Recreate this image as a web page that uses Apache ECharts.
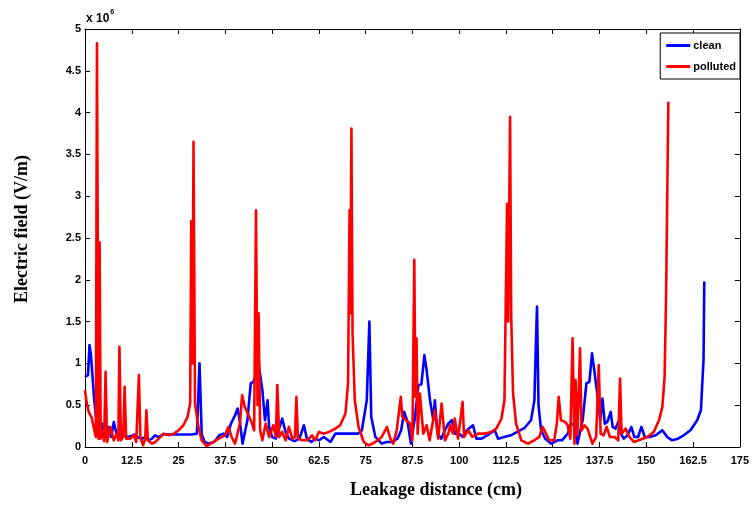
<!DOCTYPE html>
<html>
<head>
<meta charset="utf-8">
<script src="https://cdn.jsdelivr.net/npm/echarts@6/dist/echarts.min.js"></script>
<style>html,body{margin:0;padding:0;background:#fff;}#c{width:752px;height:506px;}</style>
</head>
<body>
<div id="c"></div>
<script>
// values in units of 1e6 V/m, x in cm
const xTicks = [0, 12.5, 25, 37.5, 50, 62.5, 75, 87.5, 100, 112.5, 125, 137.5, 150, 162.5, 175];
const yTicks = [0, 0.5, 1, 1.5, 2, 2.5, 3, 3.5, 4, 4.5, 5];
const seriesNames = ['clean', 'polluted'];
const xName = 'Leakage distance (cm)';
const yName = 'Electric field (V/m)';

const clean = [[0,0.84],[0.8,0.86],[1.2,1.22],[1.6,1.1],[2.4,0.6],[3.1,0.28],[3.8,0.18],[4.6,0.28],[5.3,0.12],[6.2,0.24],[7.0,0.12],[7.7,0.3],[8.4,0.16],[9.3,0.11],[10.3,0.14],[11.3,0.12],[12.3,0.13],[13.3,0.15],[14.3,0.11],[15.3,0.1],[16.2,0.12],[17.0,0.08],[17.9,0.1],[18.7,0.14],[19.6,0.12],[21,0.15],[23,0.15],[25,0.15],[27,0.15],[28.5,0.15],[29.9,0.16],[30.6,1.0],[31.2,0.15],[32.0,0.06],[33.0,0.04],[34.5,0.06],[35.9,0.14],[37,0.16],[38,0.12],[39,0.28],[39.9,0.36],[40.8,0.46],[41.4,0.3],[42.1,0.04],[43.4,0.32],[44.3,0.76],[45.0,0.78],[46.5,0.96],[47.4,0.68],[48.1,0.32],[48.8,0.56],[49.2,0.24],[50,0.12],[51,0.1],[52.7,0.34],[53.6,0.18],[54.5,0.1],[56,0.07],[57.3,0.1],[58.5,0.26],[59.3,0.1],[60.5,0.06],[61.5,0.1],[62.5,0.08],[63.8,0.12],[65.6,0.06],[66.9,0.16],[68.6,0.16],[70,0.16],[71.5,0.16],[73,0.16],[74,0.2],[75.3,0.56],[76.0,1.5],[76.5,0.36],[77.6,0.12],[79.3,0.04],[80.5,0.06],[82,0.06],[83.5,0.1],[84.5,0.2],[85.3,0.42],[86.2,0.3],[87.1,0.04],[88.2,0.36],[89.1,0.74],[89.9,0.75],[90.7,1.1],[91.3,0.92],[92.2,0.56],[93.1,0.32],[93.5,0.56],[94.2,0.16],[95.2,0.1],[96.2,0.2],[97.1,0.28],[98.0,0.32],[98.9,0.16],[100,0.16],[101,0.12],[102,0.2],[103.7,0.26],[104.6,0.1],[106,0.1],[107.5,0.14],[109.5,0.2],[110.4,0.1],[112,0.12],[113.8,0.14],[115.5,0.18],[117.5,0.23],[119.2,0.32],[120.1,0.56],[120.5,1.24],[120.8,1.68],[121.2,0.5],[121.9,0.2],[123,0.1],[124.6,0.04],[126.3,0.08],[127.5,0.08],[129,0.16],[129.9,0.28],[130.8,0.26],[131.6,0.04],[133,0.32],[134.0,0.76],[134.8,0.78],[135.5,1.12],[136.1,0.92],[137.0,0.6],[137.7,0.32],[138.3,0.58],[138.9,0.28],[139.6,0.3],[140.5,0.42],[141,0.24],[141.8,0.22],[142.5,0.3],[143.2,0.16],[144,0.1],[145,0.14],[146,0.24],[146.8,0.12],[147.8,0.12],[148.7,0.24],[149.6,0.12],[151,0.12],[152.5,0.14],[154.3,0.2],[155.6,0.12],[156.9,0.08],[158.5,0.1],[160,0.14],[161.8,0.2],[163.6,0.32],[164.6,0.44],[165.3,1.04],[165.5,1.98]];

const polluted = [[0,0.68],[0.4,0.54],[1.0,0.42],[1.8,0.35],[2.5,0.2],[2.9,0.12],[3.2,4.83],[3.6,0.1],[3.9,2.45],[4.2,0.1],[4.6,0.2],[5.1,0.07],[5.5,0.9],[5.9,0.06],[6.8,0.24],[7.7,0.08],[8.5,0.16],[8.9,0.08],[9.2,1.2],[9.6,0.08],[10.2,0.12],[10.6,0.72],[11,0.1],[12.1,0.1],[13,0.14],[13.7,0.06],[14.4,0.86],[14.8,0.12],[15.5,0.02],[16.1,0.1],[16.4,0.44],[16.8,0.08],[17.9,0.04],[18.8,0.06],[19.7,0.1],[21,0.16],[22.5,0.14],[23.8,0.16],[25,0.2],[26.3,0.26],[27.4,0.36],[28.1,0.52],[28.4,2.7],[28.7,1.0],[29.0,3.65],[29.4,0.52],[30.3,0.24],[31.2,0.08],[32.5,0.01],[34.3,0.06],[35.8,0.1],[37.4,0.14],[38.3,0.24],[39.2,0.12],[40.1,0.04],[41.4,0.28],[42,0.62],[42.7,0.48],[43.5,0.4],[44.5,0.3],[45.2,0.2],[45.7,2.83],[46.1,0.5],[46.4,1.6],[46.8,0.2],[47.4,0.08],[48.3,0.28],[49.2,0.12],[50.3,0.26],[51,0.12],[51.4,0.74],[51.9,0.12],[52.7,0.18],[53.6,0.08],[54.5,0.24],[55.4,0.1],[56.1,0.12],[56.5,0.6],[56.9,0.1],[58.1,0.08],[59.4,0.08],[60.7,0.14],[61.5,0.08],[62.5,0.18],[63.8,0.16],[65.2,0.18],[66.9,0.22],[68.2,0.26],[69.6,0.4],[70.3,0.76],[70.7,2.83],[70.9,1.6],[71.2,3.81],[71.5,1.36],[72.1,0.56],[73.1,0.24],[74.5,0.06],[75.8,0.02],[77.6,0.06],[79.3,0.12],[80.7,0.24],[81.6,0.1],[82.4,0.04],[83.3,0.2],[84.4,0.6],[84.8,0.36],[85.8,0.32],[86.9,0.28],[87.5,0.08],[88,2.24],[88.3,0.6],[88.6,1.3],[88.9,0.16],[89.5,0.64],[90.4,0.16],[91.3,0.26],[92.1,0.08],[93.5,0.44],[94.4,0.1],[95.3,0.52],[96.2,0.08],[97.1,0.16],[97.6,0.26],[98.3,0.16],[98.8,0.34],[99.7,0.1],[100.9,0.54],[101.3,0.12],[102.4,0.2],[103.5,0.12],[105,0.16],[106.8,0.16],[108.6,0.18],[109.9,0.22],[111.3,0.34],[112.1,0.56],[112.8,2.91],[113.1,1.5],[113.6,3.95],[113.9,1.56],[114.4,0.64],[115.2,0.28],[116.6,0.08],[118.4,0.04],[120,0.08],[121.4,0.12],[122.3,0.24],[123.2,0.16],[124.1,0.08],[125.4,0.08],[126.1,0.28],[126.6,0.6],[127.2,0.32],[128.3,0.3],[129,0.26],[129.7,0.1],[130.3,1.3],[130.8,0.04],[131.1,0.8],[131.6,0.14],[132.3,1.18],[132.7,0.2],[133.5,0.26],[134.3,0.22],[135.6,0.04],[136.6,0.12],[137.3,0.98],[137.8,0.16],[138.6,0.14],[139.4,0.24],[140.3,0.12],[141.5,0.12],[142.5,0.08],[143,0.82],[143.4,0.16],[144.5,0.22],[145.5,0.12],[146.7,0.06],[148.5,0.09],[150.3,0.12],[152,0.18],[153.4,0.32],[154.3,0.48],[154.9,0.84],[155.3,1.84],[155.6,3.0],[155.9,4.13]];

const labelFont = {color: '#000', fontFamily: 'Liberation Sans, Arial', fontWeight: 'bold', fontSize: 11};
const nameFont = 'bold 18px "Liberation Serif", "Times New Roman", serif';
const tick = {show: true, inside: true, length: 5, lineStyle: {color: '#000', width: 1}};
const line = {show: true, onZero: false, lineStyle: {color: '#000', width: 1}};
const chart = echarts.init(document.getElementById('c'), null, {renderer: 'canvas'});
chart.setOption({
  animation: false,
  backgroundColor: '#fff',
  grid: {left: 85, right: 9, top: 29, bottom: 59},
  legend: {
    data: seriesNames,
    orient: 'vertical',
    right: 12, top: 33,
    backgroundColor: '#fff',
    borderColor: '#000', borderWidth: 1,
    padding: [7, 4, 7, 6],
    itemWidth: 24, itemHeight: 3, itemGap: 10,
    icon: 'rect',
    textStyle: {color: '#000', fontFamily: 'Liberation Sans, Arial', fontWeight: 'bold', fontSize: 11, padding: [0, 0, 0, -2]}
  },
  xAxis: [{
    type: 'value', min: 0, max: 175, interval: 12.5,
    axisLine: line, axisTick: tick,
    axisLabel: Object.assign({margin: 8, formatter: v => { const i = xTicks.indexOf(v); return i >= 0 ? String(xTicks[i]) : ''; }}, labelFont),
    splitLine: {show: false}
  }, {
    type: 'value', position: 'top', min: 0, max: 175, interval: 12.5,
    axisLine: line, axisTick: tick,
    axisLabel: {show: false}, splitLine: {show: false}
  }],
  yAxis: [{
    type: 'value', min: 0, max: 5, interval: 0.5,
    axisLine: line, axisTick: tick,
    axisLabel: Object.assign({margin: 4, formatter: v => { const i = yTicks.indexOf(v); return i >= 0 ? String(yTicks[i]) : ''; }}, labelFont),
    splitLine: {show: false}
  }, {
    type: 'value', position: 'right', min: 0, max: 5, interval: 0.5,
    axisLine: line, axisTick: tick,
    axisLabel: {show: false}, splitLine: {show: false}
  }],
  graphic: [{
    type: 'text', left: 86, top: 9,
    style: {
      text: '{b|x 10}{s|6}',
      rich: {
        b: {fontFamily: 'Liberation Sans, Arial', fontWeight: 'bold', fontSize: 12, fill: '#000', verticalAlign: 'bottom'},
        s: {fontFamily: 'Liberation Sans, Arial', fontWeight: 'bold', fontSize: 7, fill: '#000', padding: [0, 0, 9, 1]}
      }
    }
  }, {
    type: 'text', x: 436, y: 490,
    style: {text: xName, font: nameFont, fill: '#000', align: 'center', verticalAlign: 'middle'}
  }, {
    type: 'text', x: 22, y: 229, rotation: Math.PI / 2,
    style: {text: yName, font: nameFont, fill: '#000', align: 'center', verticalAlign: 'middle'}
  }],
  series: [{
    name: seriesNames[0], type: 'line', data: clean, showSymbol: false, symbol: 'none',
    color: '#0000ff', lineStyle: {color: '#0000ff', width: 2.6, join: 'round'}, z: 2
  }, {
    name: seriesNames[1], type: 'line', data: polluted, showSymbol: false, symbol: 'none',
    color: '#ff0000', lineStyle: {color: '#ff0000', width: 2.6, join: 'round'}, z: 3
  }]
});
</script>
</body>
</html>
